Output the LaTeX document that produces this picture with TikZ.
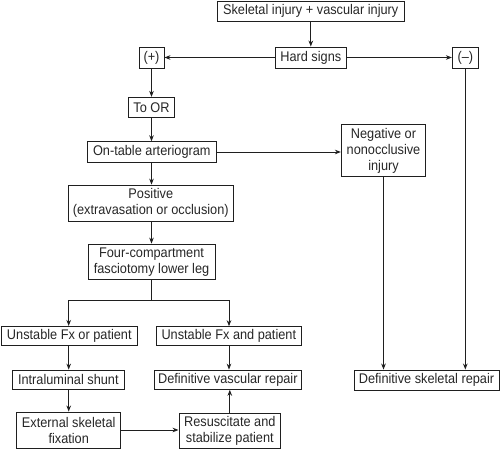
\documentclass[tikz,border=0pt]{standalone}
\usepackage{fontspec}
\setmainfont[FakeStretch=0.91]{Liberation Sans}
\usetikzlibrary{arrows.meta}
\begin{document}
\begin{tikzpicture}[x=1pt,y=1pt,
  box/.style={draw=black!88, line width=0.9pt, inner sep=0pt, align=center,
    text=black!85, font=\fontsize{14}{16}\selectfont},
  arr/.style={draw=black!88, line width=0.9pt, -{Stealth[length=6pt,width=4.6pt]}},
  ln/.style={draw=black!88, line width=0.9pt}]
\useasboundingbox (0,0) rectangle (500,-449);
\node[box, minimum width=186.7, minimum height=20.5] (top) at (310.7,-11.25) {Skeletal injury + vascular injury};
\node[box, minimum width=71.7, minimum height=21] (hard) at (310.8,-57.5) {Hard signs};
\node[box, minimum width=25, minimum height=21] (plus) at (151.5,-57.5) {(+)};
\node[box, minimum width=26, minimum height=21] (minus) at (465.3,-57.5) {(–)};
\node[box, minimum width=45.4, minimum height=20.4] (toor) at (151.5,-107.5) {To OR};
\node[box, minimum width=129, minimum height=20.6] (onta) at (151.8,-152) {On-table arteriogram};
\node[box, minimum width=84.4, minimum height=51.7] (neg) at (383.5,-150.8) {Negative or\\nonocclusive\\injury};
\node[box, minimum width=165, minimum height=36.3] (pos) at (150.8,-203.2) {Positive\\(extravasation or occlusion)};
\node[box, minimum width=127, minimum height=35.3] (four) at (151.5,-261.7) {Four-compartment\\fasciotomy lower leg};
\node[box, minimum width=136.7, minimum height=18.7] (ufor) at (69.3,-335.7) {Unstable Fx or patient};
\node[box, minimum width=144.3, minimum height=18.3] (ufand) at (228.8,-335.8) {Unstable Fx and patient};
\node[box, minimum width=111.3, minimum height=19.3] (shunt) at (68.3,-379.7) {Intraluminal shunt};
\node[box, minimum width=147.7, minimum height=19.3] (defvasc) at (227.8,-379.7) {Definitive vascular repair};
\node[box, minimum width=145, minimum height=20] (defskel) at (426.5,-380) {Definitive skeletal repair};
\node[box, minimum width=104, minimum height=36] (ext) at (68.7,-430) {External skeletal\\fixation};
\node[box, minimum width=101.7, minimum height=35] (resus) at (229.8,-430.5) {Resuscitate and\\stabilize patient};
\coordinate (split) at (151.5,-300);
\coordinate (lt) at (68.7,-300);
\coordinate (rt) at (229,-300);
\draw[arr] (top.south -| hard.north) -- (hard.north);
\draw[arr] (hard.west) -- (plus.east);
\draw[arr] (hard.east) -- (minus.west);
\draw[arr] (plus.south) -- (plus.south |- toor.north);
\draw[arr] (toor.south) -- (toor.south |- onta.north);
\draw[arr] (onta.east) -- (onta.east -| neg.west);
\draw[arr] (onta.south -| toor.south) -- (toor.south |- pos.north);
\draw[arr] (pos.south -| toor.south) -- (toor.south |- four.north);
\draw[ln] (four.south) -- (split);
\draw[arr] (split) -- (lt) -- (lt |- ufor.north);
\draw[arr] (split) -- (rt) -- (rt |- ufand.north);
\draw[arr] (lt |- ufor.south) -- (lt |- shunt.north);
\draw[arr] (lt |- shunt.south) -- (lt |- ext.north);
\draw[arr] (rt |- ufand.south) -- (rt |- defvasc.north);
\draw[arr] (ext.east) -- (ext.east -| resus.west);
\draw[arr] (resus.north) -- (resus.north |- defvasc.south);
\draw[arr] (neg.south) -- (neg.south |- defskel.north);
\draw[arr] (minus.south) -- (minus.south |- defskel.north);
\end{tikzpicture}
\end{document}
